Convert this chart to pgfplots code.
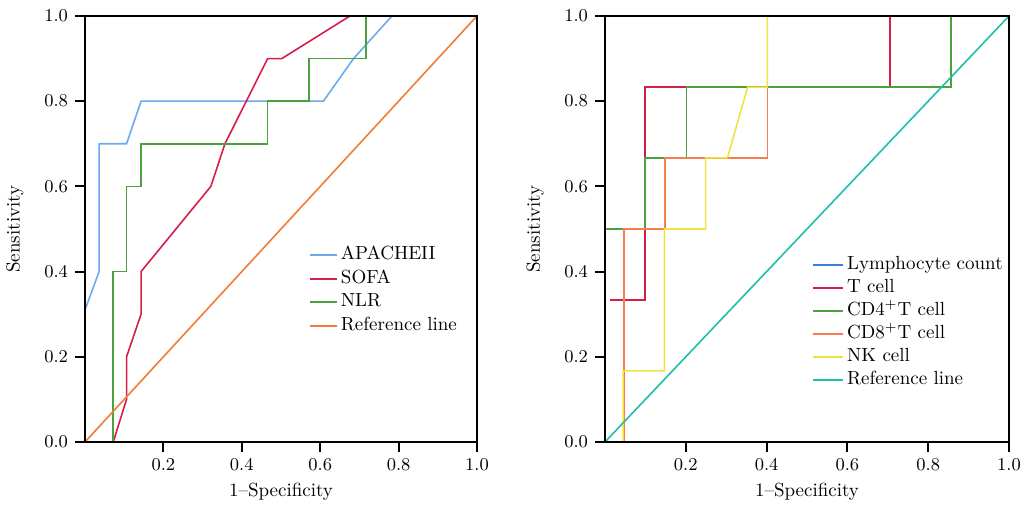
\documentclass[border=0pt]{standalone}
\usepackage{pgfplots}
\pgfplotsset{compat=1.18}
\definecolor{apblue}{RGB}{108,171,235}
\definecolor{sofared}{RGB}{214,30,74}
\definecolor{nlrgreen}{RGB}{76,160,62}
\definecolor{refor}{RGB}{240,125,55}
\definecolor{lymblue}{RGB}{60,125,215}
\definecolor{cdeight}{RGB}{245,125,80}
\definecolor{nkyellow}{RGB}{242,226,60}
\definecolor{refteal}{RGB}{30,190,172}

\pgfplotsset{
  rocaxis/.style={
    scale only axis,
    height=213pt,
    xmin=0, xmax=1, ymin=0, ymax=1,
    xtick={0.2,0.4,0.6,0.8,1.0},
    ytick={0,0.2,0.4,0.6,0.8,1.0},
    tick pos=left,
    tick align=outside,
    major tick length=5pt,
    tick style={line width=1pt, black},
    axis line style={line width=1pt},
    axis on top,
    font=\fontsize{9.5}{11}\selectfont,
    tick label style={font=\fontsize{9.5}{11}\selectfont},
    /pgf/number format/.cd, fixed, fixed zerofill, precision=1,
    /pgfplots/.cd,
    xlabel={1--Specificity},
    ylabel={Sensitivity},
    xlabel style={at={(axis description cs:0.5,-0.117)}, anchor=center},
    legend cell align=left,
    every axis plot/.append style={line width=0.8pt},
  },
}

\begin{document}
\begin{tikzpicture}[x=1pt,y=1pt]
\useasboundingbox (0,0) rectangle (516,252);

\begin{axis}[rocaxis, at={(42.5pt,31pt)}, anchor=south west, width=196pt,
  ylabel style={at={(axis description cs:-0.179,0.5)}, anchor=center},
  legend image code/.code={\draw[#1, line width=1pt] (0pt,0pt) -- (13.5pt,0pt);},
  legend style={draw=none, fill=none, at={(axis description cs:0.555,0.473)}, anchor=north west,
    nodes={inner sep=0.5pt, text height=7pt, text depth=2.5pt}, row sep=1.2pt, column sep=1pt},
]
\addplot[apblue] coordinates {
  (0,0.31) (0.036,0.40) (0.036,0.70) (0.106,0.70) (0.143,0.80)
  (0.608,0.80) (0.685,0.90) (0.783,1.0)
};
\addlegendentry{APACHEII}
\addplot[sofared] coordinates {
  (0.072,0) (0.106,0.1) (0.106,0.2) (0.143,0.3) (0.143,0.4) (0.321,0.6)
  (0.357,0.7) (0.466,0.9) (0.502,0.9) (0.676,1.0)
};
\addlegendentry{SOFA}
\addplot[nlrgreen] coordinates {
  (0.072,0) (0.072,0.4) (0.106,0.4) (0.106,0.6) (0.143,0.6) (0.143,0.7)
  (0.466,0.7) (0.466,0.8) (0.572,0.8) (0.572,0.9) (0.717,0.9) (0.717,1.0)
};
\addlegendentry{NLR}
\addplot[refor] coordinates {(0,0) (1,1)};
\addlegendentry{Reference line}
\end{axis}

\begin{axis}[rocaxis, at={(302.5pt,31pt)}, anchor=south west, width=202pt,
  ylabel style={at={(axis description cs:-0.173,0.5)}, anchor=center},
  legend image code/.code={\draw[#1, line width=1pt] (0pt,0pt) -- (15pt,0pt);},
  legend style={draw=none, fill=none, at={(axis description cs:0.497,0.45)}, anchor=north west,
    nodes={inner sep=0.5pt, text height=7pt, text depth=2.5pt}, row sep=1.0pt, column sep=1pt},
]
\addplot[lymblue] coordinates {
  (0,0) (0,0.5) (0.099,0.5) (0.099,0.667) (0.202,0.667) (0.202,0.833)
  (0.856,0.833) (0.856,1)
};
\addlegendentry{Lymphocyte count}
\addplot[sofared] coordinates {
  (0.012,0.333) (0.099,0.333) (0.099,0.833) (0.705,0.833) (0.705,1)
};
\addlegendentry{T cell}
\addplot[nlrgreen] coordinates {
  (0,0) (0,0.5) (0.099,0.5) (0.099,0.667) (0.202,0.667) (0.202,0.833)
  (0.856,0.833) (0.856,1)
};
\addlegendentry{CD4\textsuperscript{+}T cell}
\addplot[cdeight] coordinates {
  (0.047,0) (0.047,0.5) (0.149,0.5) (0.149,0.667) (0.402,0.667)
  (0.402,0.833) (0.402,1)
};
\addlegendentry{CD8\textsuperscript{+}T cell}
\addplot[nkyellow] coordinates {
  (0.045,0) (0.045,0.167) (0.147,0.167) (0.147,0.5) (0.249,0.5) (0.249,0.667)
  (0.303,0.667) (0.353,0.833) (0.402,0.833) (0.402,1)
};
\addlegendentry{NK cell}
\addplot[refteal] coordinates {(0,0) (1,1)};
\addlegendentry{Reference line}
\end{axis}
\end{tikzpicture}
\end{document}
